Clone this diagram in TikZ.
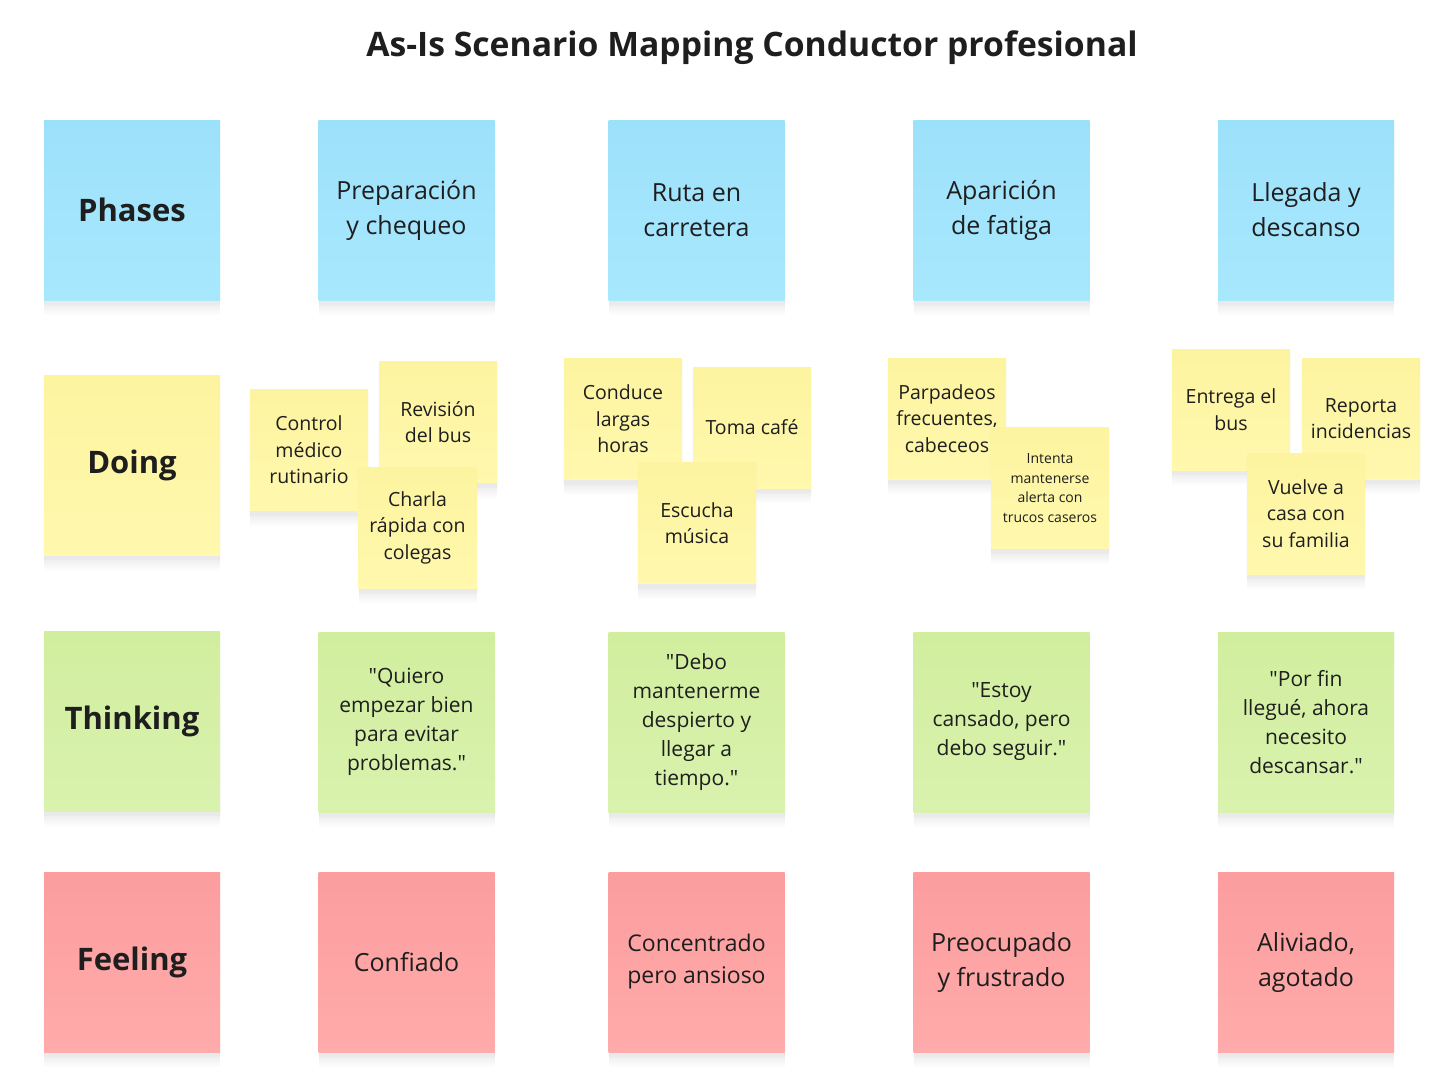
\documentclass[tikz,border=0pt]{standalone}
\usepackage{fontspec}
\setmainfont{Open Sans}[Ligatures=TeXOff]

\definecolor{ink}{HTML}{1E1E1E}
\definecolor{bluetop}{HTML}{9CE1FA}
\definecolor{bluebot}{HTML}{A8E8FD}
\definecolor{yeltop}{HTML}{FDF4A0}
\definecolor{yelbot}{HTML}{FFF8AD}
\definecolor{grntop}{HTML}{D1EE9E}
\definecolor{grnbot}{HTML}{D9F2AE}
\definecolor{redtop}{HTML}{FC9D9E}
\definecolor{redbot}{HTML}{FFABAB}

\tikzset{
  sh/.style={preaction={fill=black, opacity=.011, transform canvas={yshift=-#1pt}}},
  softshadow/.style={sh=15, sh=13, sh=11, sh=9, sh=7, sh=5, sh=3,
    preaction={draw=black, line width=2pt, opacity=.012, transform canvas={yshift=-4pt}}},
  note/.style={minimum width=176pt, minimum height=180pt, inner sep=0pt, align=center, text=ink,
    font=\fontsize{25}{35}\selectfont, softshadow},
  label/.style={font=\fontsize{31}{36}\selectfont\bfseries},
  small/.style={note, minimum width=118pt, minimum height=121pt, font=\fontsize{19.5}{26.5}\selectfont},
  phase/.style={top color=bluetop, bottom color=bluebot},
  doing/.style={top color=yeltop, bottom color=yelbot},
  think/.style={top color=grntop, bottom color=grnbot},
  feel/.style={top color=redtop, bottom color=redbot}
}

\begin{document}
\begin{tikzpicture}[x=1pt, y=-1pt]
\useasboundingbox (0,0) rectangle (1447,1079);

\node[text=ink, font=\fontsize{33.7}{40}\selectfont\bfseries] (title) at (752,48) {As-Is Scenario Mapping Conductor profesional};

% phases
\begin{scope}[every node/.style={note, phase}]
    \node[label] (ph0) at (132,210) {Phases};
    \node (ph1) at (406.5,210) {Preparación\\y chequeo};
    \node (ph2) at (696.5,210) {Ruta en\\carretera};
    \node (ph3) at (1001.5,210) {Aparición\\de fatiga};
    \node (ph4) at (1306,210) {Llegada y\\descanso};
\end{scope}

% doing
\node[note, doing, label] (do0) at (132,465) {Doing};
\begin{scope}[every node/.style={small, doing}]
    \node (do1a) at (309,450) {Control\\médico\\rutinario};
    \node (do1b) at (438,422) {Revisión\\del bus};
    \node (do1c) at (417.5,527.5) {Charla\\rápida con\\colegas};

    \node (do2a) at (623,419) {Conduce\\largas\\horas};
    \node (do2b) at (752,427.5) {Toma café};
    \node (do2c) at (697,523) {Escucha\\música};

    \node (do3a) at (947,418.5) {Parpadeos\\frecuentes,\\cabeceos};
    \node[font=\fontsize{14}{19.5}\selectfont] (do3b) at (1050,488) {Intenta\\mantenerse\\alerta con\\trucos caseros};

    \node (do4a) at (1231,409.5) {Entrega el\\bus};
    \node (do4b) at (1361,418.5) {Reporta\\incidencias};
    \node (do4c) at (1306,513.5) {Vuelve a\\casa con\\su familia};
\end{scope}

% thinking
\begin{scope}[every node/.style={note, think, font=\fontsize{21}{29}\selectfont}]
    \node[label] (th0) at (132,721) {Thinking};
    \node (th1) at (406.5,722) {"Quiero\\empezar bien\\para evitar\\problemas."};
    \node (th2) at (696.5,722) {"Debo\\mantenerme\\despierto y\\llegar a\\tiempo."};
    \node (th3) at (1001.5,722) {"Estoy\\cansado, pero\\debo seguir."};
    \node (th4) at (1306,722) {"Por fin\\llegué, ahora\\necesito\\descansar."};
\end{scope}

% feeling
\begin{scope}[every node/.style={note, feel}]
    \node[label] (fe0) at (132,962) {Feeling};
    \node (fe1) at (406.5,962) {Confiado};
    \node[font=\fontsize{23}{32}\selectfont] (fe2) at (696.5,962) {Concentrado\\pero ansioso};
    \node (fe3) at (1001.5,962) {Preocupado\\y frustrado};
    \node (fe4) at (1306,962) {Aliviado,\\agotado};
\end{scope}

\end{tikzpicture}
\end{document}
